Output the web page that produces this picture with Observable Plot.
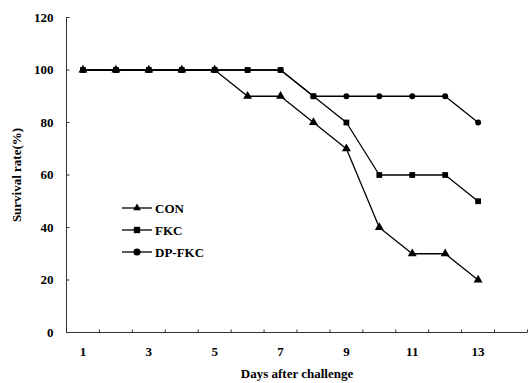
<!DOCTYPE html>
<html><head><meta charset="utf-8">
<script src="https://cdn.jsdelivr.net/npm/d3@7"></script>
<script src="https://cdn.jsdelivr.net/npm/@observablehq/plot@0.6"></script>
<style>body{margin:0;background:#fff}</style>
</head><body><div id="chart"></div>
<script>
const days = [1,2,3,4,5,6,7,8,9,10,11,12,13];
const con = [100,100,100,100,100,90,90,80,70,40,30,30,20];
const fkc = [100,100,100,100,100,100,100,90,80,60,60,60,50];
const dpfkc = [100,100,100,100,100,100,100,90,90,90,90,90,80];
const seriesNames = ["CON","FKC","DP-FKC"];
const seriesSymbols = ["triangle","square","circle"];
const xTickLabels = [1,3,5,7,9,11,13];
const yTicks = [0,20,40,60,80,100,120];
const xBoundaries = d3.range(0.5, 15, 1);

const rows = [];
const drawOrder = [["CON", con], ["DP-FKC", dpfkc], ["FKC", fkc]];
for (const [name, vals] of drawOrder) vals.forEach((v,i)=>rows.push({series:name, day:days[i], value:v}));

const font = "'Liberation Serif', 'Times New Roman', serif";
const hTick = {draw(ctx){ctx.moveTo(0,0); ctx.lineTo(3,0);}};
const vTick = {draw(ctx){ctx.moveTo(0,0); ctx.lineTo(0,-3);}};
const symFor = n => seriesSymbols[seriesNames.indexOf(n)];

const chart = Plot.plot({
  width: 529, height: 383,
  marginLeft: 66, marginRight: 2, marginTop: 17, marginBottom: 51,
  style: {fontFamily: font, fontSize: "13px", fontWeight: "bold", color: "#000", background: "#fff"},
  x: {type: "linear", domain: [0.5, 14.5]},
  y: {domain: [0, 120]},
  marks: [
    Plot.axisY({ticks: yTicks, tickSize: 0, tickPadding: 13, label: null, fontSize: 13, fontWeight: "bold"}),
    Plot.axisX({ticks: xTickLabels, tickSize: 0, tickPadding: 14, label: null, fontSize: 13, fontWeight: "bold"}),
    Plot.ruleX([0.5], {y1: 0, y2: 120, stroke: "#333", strokeWidth: 1}),
    Plot.ruleY([0], {stroke: "#333", strokeWidth: 1}),
    Plot.dot(yTicks, {x: 0.5, y: d=>d, symbol: hTick, stroke: "#333", strokeWidth: 1, r: 3}),
    Plot.dot(xBoundaries, {x: d=>d, y: 0, symbol: vTick, stroke: "#333", strokeWidth: 1, r: 3}),
    Plot.line(rows, {x: "day", y: "value", z: "series", stroke: "#000", strokeWidth: 1.3}),
    Plot.dot(rows, {x: "day", y: "value", symbol: d=>symFor(d.series), fill: "#000", stroke: "none",
      r: d => symFor(d.series)==="circle" ? 4.4 : symFor(d.series)==="square" ? 5.2 : 5.4}),
    Plot.text(["Survival rate(%)"], {frameAnchor: "left", dx: -50, rotate: -90, textAnchor: "middle", fontSize: 13, fontWeight: "bold", fill: "#000"}),
    Plot.text(["Days after challenge"], {frameAnchor: "bottom", dy: 45, textAnchor: "middle", fontSize: 13, fontWeight: "bold", fill: "#000", letterSpacing: "0.6px"})
  ]
});

// legend inside plot
const svg = d3.select(chart);
const lg = svg.append("g").attr("text-anchor","start");
seriesNames.forEach((n,i)=>{
  const y = 208 + i*22;
  lg.append("line").attr("x1",122).attr("x2",152).attr("y1",y).attr("y2",y).attr("stroke","#000").attr("stroke-width",1.3);
  const sym = {triangle: d3.symbolTriangle2, square: d3.symbolSquare, circle: d3.symbolCircle}[seriesSymbols[i]];
  const size = seriesSymbols[i]==="circle" ? 40 : seriesSymbols[i]==="square" ? 40 : 42;
  lg.append("path").attr("d", d3.symbol(sym, size)()).attr("transform",`translate(137,${y})`).attr("fill","#000");
  lg.append("text").attr("x",155).attr("y",y).attr("dy","0.35em").attr("text-anchor","start").attr("font-size",13).attr("font-weight","bold").attr("font-family",font).attr("fill","#000").text(n);
});
document.getElementById("chart").appendChild(chart);
</script>
</body></html>
